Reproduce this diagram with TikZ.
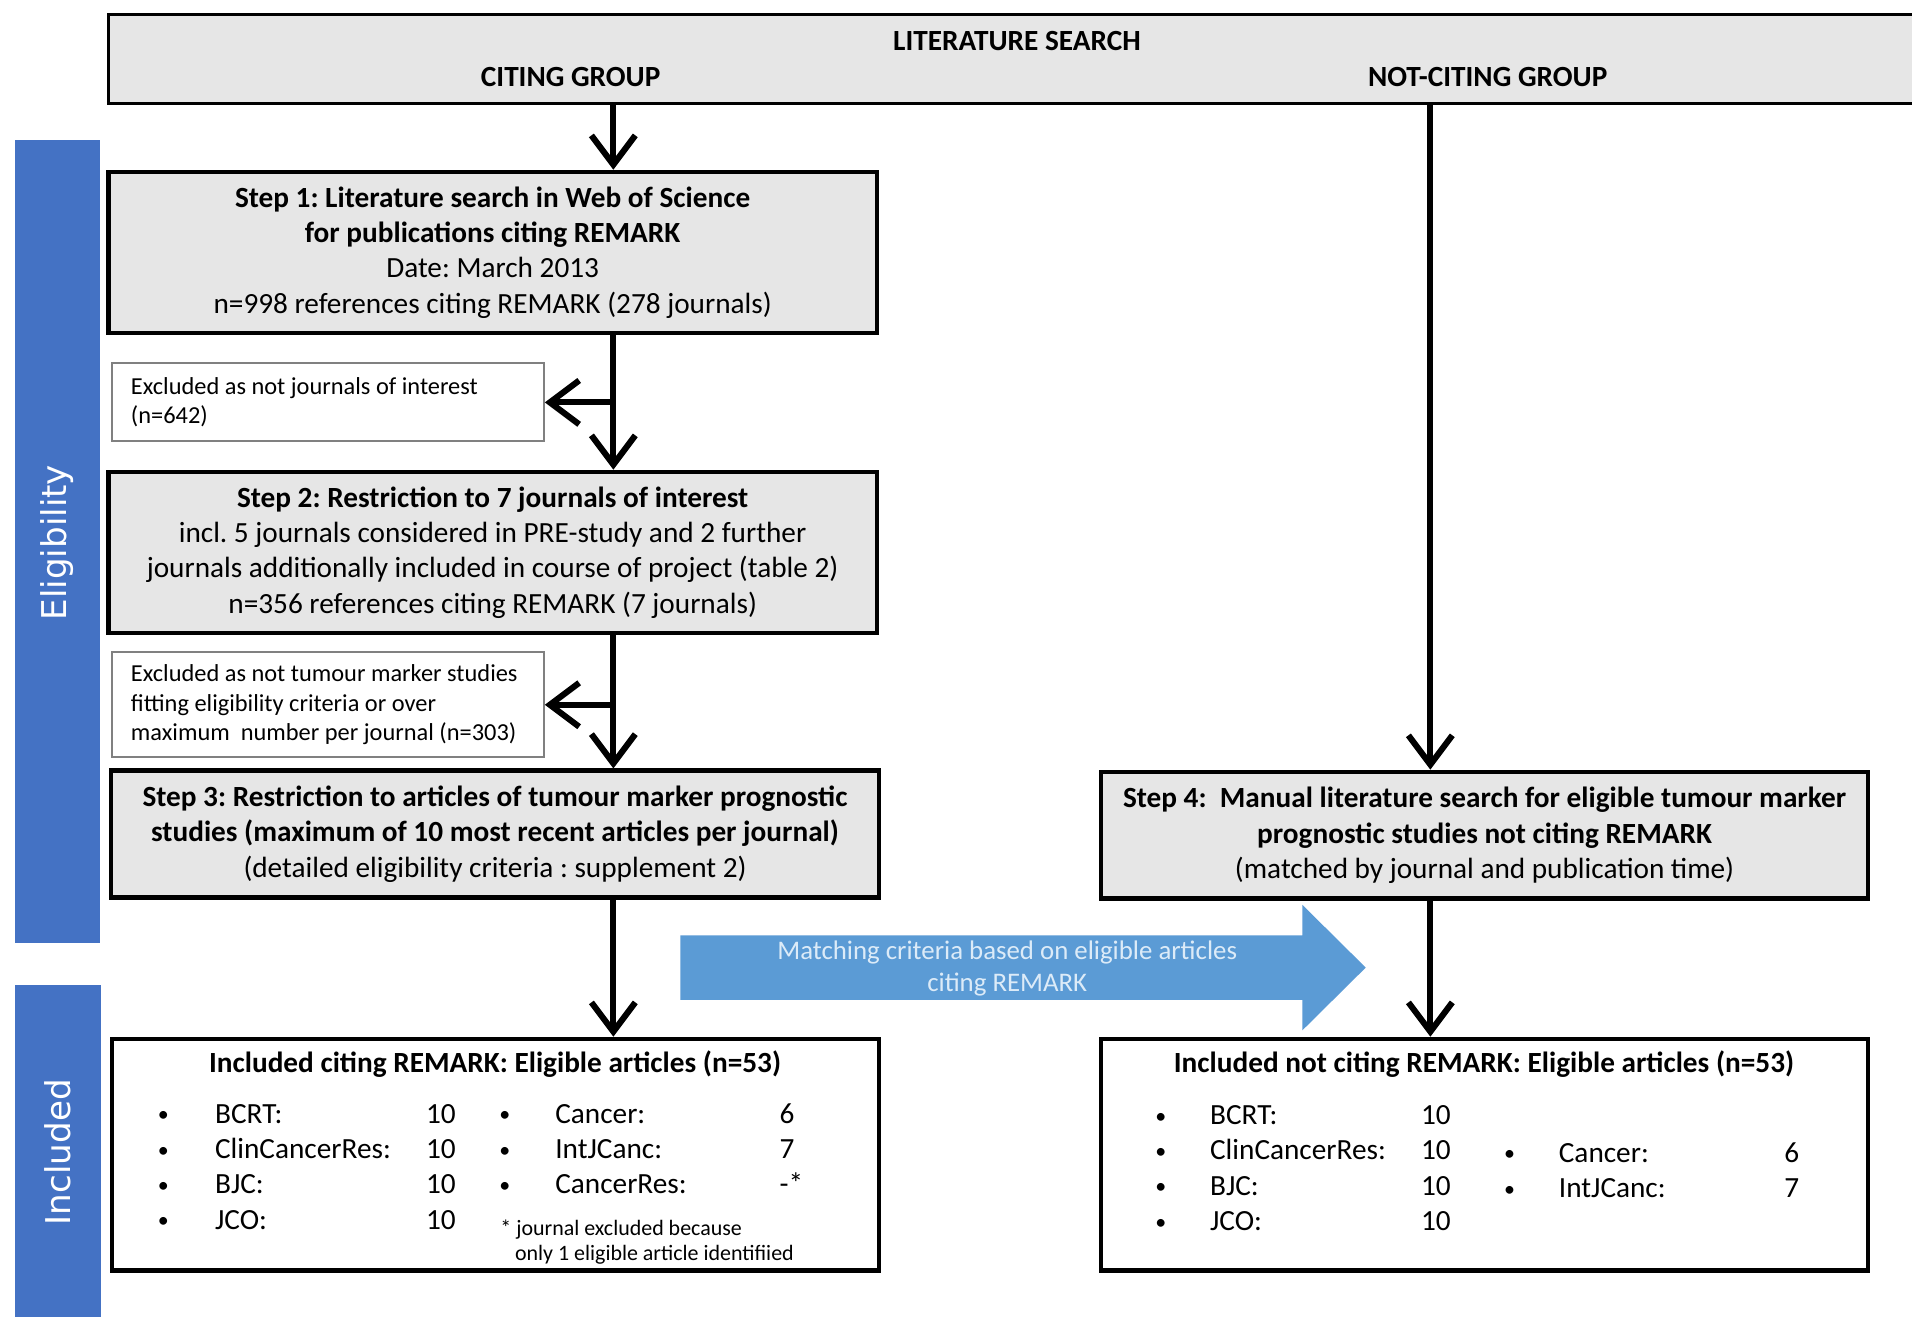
\documentclass[tikz,border=0pt]{standalone}
\usepackage{fontspec}
\setmainfont{Carlito}
\newfontfamily\labfont{DejaVu Sans}
\usetikzlibrary{arrows.meta}
\definecolor{barblue}{HTML}{4472C4}
\definecolor{arrblue}{HTML}{5B9BD5}
\definecolor{boxgray}{HTML}{E6E6E6}
\definecolor{arrtext}{HTML}{DCEBF8}
\frenchspacing
\begin{document}
\begin{tikzpicture}[x=0.5pt,y=-0.5pt,
  stepbox/.style={draw=black, line width=1.8pt, fill=boxgray, align=center, inner sep=0pt, font=\fontsize{12}{14.5}\selectfont},
  exbox/.style={draw=gray, line width=0.8pt, fill=white, inner sep=0pt, minimum width=177pt},
  extext/.style={align=left, inner sep=0pt, anchor=west, font=\fontsize{10}{12}\selectfont},
  incbox/.style={draw=black, line width=1.8pt, fill=white, inner sep=0pt},
  bar/.style={fill=barblue, inner sep=0pt},
  barlabel/.style={text=white, rotate=90, font=\labfont\fontsize{14}{16}\selectfont, inner sep=0pt},
  flow/.style={line width=2.5pt, -{Straight Barb[length=12pt,width=18pt]}},
  hdr/.style={font=\bfseries\fontsize{12}{14.5}\selectfont, inner sep=0pt},
  itm/.style={font=\fontsize{12}{14.5}\selectfont, inner sep=0pt, anchor=base west},
  bul/.style={font=\fontsize{9}{11}\selectfont, inner sep=0pt, anchor=base},
  fnote/.style={font=\fontsize{9}{11}\selectfont, inner sep=0pt, anchor=base west}
]
\useasboundingbox (0,0) rectangle (1568,1080);
\fill[white] (0,0) rectangle (1568,1080);

% side bars
\node[bar, minimum width=35pt, minimum height=329pt] (barE) at (47,444) {};
\node[barlabel] (labE) at (47,445) {Eligibility};
\node[bar, minimum width=35.5pt, minimum height=141pt] (barI) at (47.5,949) {};
\node[barlabel] (labI) at (47,945) {Included};

% top box
\node[draw=black, line width=1.5pt, fill=boxgray, minimum width=750.5pt, minimum height=36.5pt, inner sep=0pt] (top) at (839.5,48.5) {};
\node[hdr] (lit) at (834,34) {LITERATURE SEARCH};
\node[hdr] (cg) at (468,63) {CITING GROUP};
\node[hdr] (ncg) at (1220,63) {NOT-CITING GROUP};

% steps
\node[stepbox, minimum width=315pt, minimum height=66pt] (step1) at (404,207)
  {\textbf{Step 1: Literature search in Web of Science}\\
   \textbf{for publications citing REMARK}\\
   Date: March 2013\\
   n=998 references citing REMARK (278 journals)};
\node[exbox, minimum height=32pt] (ex1) at (269,330) {};
\node[extext] (ex1t) at (107,330) {Excluded as not journals of interest\\(n=642)};
\node[stepbox, minimum width=315pt, minimum height=66pt] (step2) at (404,453)
  {\textbf{Step 2: Restriction to 7 journals of interest}\\
   incl. 5 journals considered in PRE-study and 2 further\\
   journals additionally included in course of project (table 2)\\
   n=356 references citing REMARK (7 journals)};
\node[exbox, minimum height=43pt] (ex2) at (269,578) {};
\node[extext] (ex2t) at (107,578)
  {Excluded as not tumour marker studies\\fitting eligibility criteria or over\\maximum\ \ number per journal (n=303)};
\node[stepbox, minimum width=315pt, minimum height=52pt] (step3) at (406,684)
  {\textbf{Step 3: Restriction to articles of tumour marker prognostic}\\
   \textbf{studies (maximum of 10 most recent articles per journal)}\\
   (detailed eligibility criteria : supplement 2)};
\node[stepbox, minimum width=314.5pt, minimum height=52pt] (step4) at (1217.5,685)
  {\textbf{Step 4:\ \ Manual literature search for eligible tumour marker}\\
   \textbf{prognostic studies not citing REMARK}\\
   (matched by journal and publication time)};

% included boxes
\node[incbox, minimum width=314.5pt, minimum height=95pt] (incL) at (406.5,947) {};
\node[incbox, minimum width=314.5pt, minimum height=95pt] (incR) at (1217.5,947) {};
\node[hdr] (titL) at (406,873) {Included citing REMARK: Eligible articles (n=53)};
\node[hdr] (titR) at (1217,873) {Included not citing REMARK: Eligible articles (n=53)};

\foreach \nm/\yy [count=\i] in {BCRT:/914, ClinCancerRes:/943, BJC:/972, JCO:/1001}{
  \node[bul] (lb\i) at (134,\yy+6) {•};
  \node[itm] (ln\i) at (176,\yy+7) {\nm};
  \node[itm] (lv\i) at (349,\yy+7) {10};
}
\foreach \nm/\yy/\vv [count=\i] in {Cancer:/914/6, IntJCanc:/943/7, CancerRes:/972/-*}{
  \node[bul] (mb\i) at (414,\yy+6) {•};
  \node[itm] (mn\i) at (455,\yy+7) {\nm};
  \node[itm] (mv\i) at (639,\yy+7) {\vv};
}
\node[fnote] (fn1) at (410,1013) {* journal excluded because};
\node[fnote] (fn2) at (422,1034) {only 1 eligible article identifiied};

\foreach \nm/\yy [count=\i] in {BCRT:/915, ClinCancerRes:/944, BJC:/973, JCO:/1002}{
  \node[bul] (rb\i) at (952,\yy+6) {•};
  \node[itm] (rn\i) at (992,\yy+7) {\nm};
  \node[itm] (rv\i) at (1165,\yy+7) {10};
}
\foreach \nm/\yy/\vv [count=\i] in {Cancer:/946/6, IntJCanc:/975/7}{
  \node[bul] (sb\i) at (1238,\yy+6) {•};
  \node[itm] (sn\i) at (1278,\yy+7) {\nm};
  \node[itm] (sv\i) at (1463,\yy+7) {\vv};
}

% matching arrow
\fill[arrblue] (558,767) -- (1068,767) -- (1068,742) -- (1120,793.5) -- (1068,845) -- (1068,820) -- (558,820) -- cycle;
\node[text=arrtext, align=center, font=\fontsize{11}{13}\selectfont, inner sep=0pt] (match) at (826,794)
  {Matching criteria based on eligible articles\\citing REMARK};

% connectors
\coordinate (xl) at (503,0);
\coordinate (xr) at (1173,0);
\draw[flow] (top.south -| xl) -- (step1.north -| xl);
\draw[flow] (step1.south -| xl) -- (step2.north -| xl);
\draw[flow] (ex1.east -| xl) -- (ex1.east);
\draw[flow] (step2.south -| xl) -- (step3.north -| xl);
\draw[flow] (ex2.east -| xl) -- (ex2.east);
\draw[flow] (step3.south -| xl) -- (incL.north -| xl);
\draw[flow] (top.south -| xr) -- (step4.north -| xr);
\draw[flow] (step4.south -| xr) -- (incR.north -| xr);
\end{tikzpicture}
\end{document}
